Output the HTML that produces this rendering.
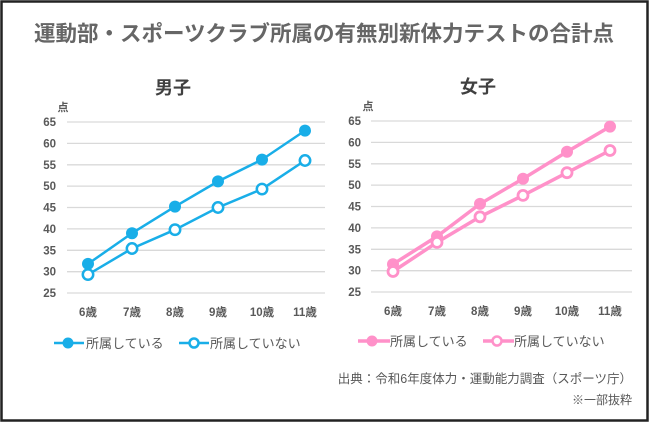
<!DOCTYPE html>
<html><head><meta charset="utf-8"><style>
html,body{margin:0;padding:0;background:#fff}
svg{display:block}
text{font-family:"Liberation Sans","Noto Sans CJK JP",sans-serif}
</style></head><body>
<svg width="650" height="424" viewBox="0 0 650 424" xmlns="http://www.w3.org/2000/svg">
<rect x="1.5" y="1.5" width="646" height="419" fill="#fff" stroke="#222" stroke-width="2.5"/>
<text x="324" y="41" text-anchor="middle" font-size="21.5" font-weight="bold" fill="#666">運動部・スポーツクラブ所属の有無別新体力テストの合計点</text>
<g stroke="#d9d9d9" stroke-width="1.3">
<line x1="67" x2="325" y1="122" y2="122"/><line x1="67" x2="325" y1="143.4" y2="143.4"/><line x1="67" x2="325" y1="164.8" y2="164.8"/><line x1="67" x2="325" y1="186.1" y2="186.1"/><line x1="67" x2="325" y1="207.5" y2="207.5"/><line x1="67" x2="325" y1="228.9" y2="228.9"/><line x1="67" x2="325" y1="250.3" y2="250.3"/><line x1="67" x2="325" y1="271.7" y2="271.7"/><line x1="67" x2="325" y1="293" y2="293"/>
<line x1="371" x2="632" y1="121" y2="121"/><line x1="371" x2="632" y1="142.4" y2="142.4"/><line x1="371" x2="632" y1="163.8" y2="163.8"/><line x1="371" x2="632" y1="185.1" y2="185.1"/><line x1="371" x2="632" y1="206.5" y2="206.5"/><line x1="371" x2="632" y1="227.9" y2="227.9"/><line x1="371" x2="632" y1="249.3" y2="249.3"/><line x1="371" x2="632" y1="270.7" y2="270.7"/><line x1="371" x2="632" y1="292" y2="292"/>
</g>
<g font-size="11.5" font-weight="bold" fill="#595959" text-anchor="end">
<text x="56" y="126">65</text><text x="56" y="147.4">60</text><text x="56" y="168.8">55</text><text x="56" y="190.1">50</text><text x="56" y="211.5">45</text><text x="56" y="232.9">40</text><text x="56" y="254.3">35</text><text x="56" y="275.7">30</text><text x="56" y="297">25</text>
<text x="361" y="125">65</text><text x="361" y="146.4">60</text><text x="361" y="167.8">55</text><text x="361" y="189.1">50</text><text x="361" y="210.5">45</text><text x="361" y="231.9">40</text><text x="361" y="253.3">35</text><text x="361" y="274.7">30</text><text x="361" y="296">25</text>
</g>
<g font-size="11.5" font-weight="bold" fill="#595959" text-anchor="middle">
<text x="88" y="316">6歳</text><text x="132" y="316">7歳</text><text x="175" y="316">8歳</text><text x="218" y="316">9歳</text><text x="262" y="316">10歳</text><text x="305" y="316">11歳</text>
<text x="393" y="315">6歳</text><text x="437" y="315">7歳</text><text x="480" y="315">8歳</text><text x="523" y="315">9歳</text><text x="567" y="315">10歳</text><text x="610" y="315">11歳</text>
<text x="63" y="111" font-size="11">点</text><text x="368" y="110" font-size="11">点</text>
</g>
<text x="173" y="94" font-size="18" font-weight="bold" fill="#404040" text-anchor="middle">男子</text>
<text x="478" y="93" font-size="18" font-weight="bold" fill="#404040" text-anchor="middle">女子</text>
<g stroke="#19aee8" stroke-width="2.5" fill="none">
<polyline points="88,263.9 132,233.2 175,206.6 218,181.4 262,159.6 305,130.6"/>
<polyline points="88,274.6 132,248.5 175,229.7 218,207.5 262,189.1 305,160.5"/>
</g>
<g fill="#19aee8"><circle cx="88" cy="263.9" r="6"/><circle cx="132" cy="233.2" r="6"/><circle cx="175" cy="206.6" r="6"/><circle cx="218" cy="181.4" r="6"/><circle cx="262" cy="159.6" r="6"/><circle cx="305" cy="130.6" r="6"/></g>
<g fill="#fff" stroke="#19aee8" stroke-width="2.5"><circle cx="88" cy="274.6" r="5.2"/><circle cx="132" cy="248.5" r="5.2"/><circle cx="175" cy="229.7" r="5.2"/><circle cx="218" cy="207.5" r="5.2"/><circle cx="262" cy="189.1" r="5.2"/><circle cx="305" cy="160.5" r="5.2"/></g>
<g stroke="#ff91c9" stroke-width="3.5" fill="none">
<polyline points="393,264.2 437,236.4 480,203.9 523,178.7 567,151.8 610,126.6"/>
<polyline points="393,271.5 437,242.4 480,216.8 523,195.4 567,172.7 610,150.5"/>
</g>
<g fill="#ff91c9"><circle cx="393" cy="264.2" r="6"/><circle cx="437" cy="236.4" r="6"/><circle cx="480" cy="203.9" r="6"/><circle cx="523" cy="178.7" r="6"/><circle cx="567" cy="151.8" r="6"/><circle cx="610" cy="126.6" r="6"/></g>
<g fill="#fff" stroke="#ff91c9" stroke-width="2.8"><circle cx="393" cy="271.5" r="5"/><circle cx="437" cy="242.4" r="5"/><circle cx="480" cy="216.8" r="5"/><circle cx="523" cy="195.4" r="5"/><circle cx="567" cy="172.7" r="5"/><circle cx="610" cy="150.5" r="5"/></g>
<!-- legends -->
<line x1="54" x2="84" y1="343" y2="343" stroke="#19aee8" stroke-width="2.5"/><circle cx="68" cy="343" r="5.5" fill="#19aee8"/>
<text x="86" y="348" font-size="13" fill="#595959">所属している</text>
<line x1="179" x2="209" y1="343" y2="343" stroke="#19aee8" stroke-width="2.5"/><circle cx="194" cy="343" r="4.5" fill="#fff" stroke="#19aee8" stroke-width="2.5"/>
<text x="210" y="348" font-size="13" fill="#595959">所属していない</text>
<line x1="358" x2="390" y1="341" y2="341" stroke="#ff91c9" stroke-width="3.5"/><circle cx="372" cy="341" r="5.5" fill="#ff91c9"/>
<text x="390" y="346" font-size="13" fill="#595959">所属している</text>
<line x1="483" x2="514" y1="341" y2="341" stroke="#ff91c9" stroke-width="3.5"/><circle cx="497" cy="341" r="4.5" fill="#fff" stroke="#ff91c9" stroke-width="2.5"/>
<text x="514" y="346" font-size="13" fill="#595959">所属していない</text>
<text x="632" y="383" font-size="12.5" fill="#595959" text-anchor="end">出典：令和6年度体力・運動能力調査（スポーツ庁）</text>
<text x="632" y="404" font-size="12" fill="#595959" text-anchor="end">※一部抜粋</text>
</svg>
</body></html>
